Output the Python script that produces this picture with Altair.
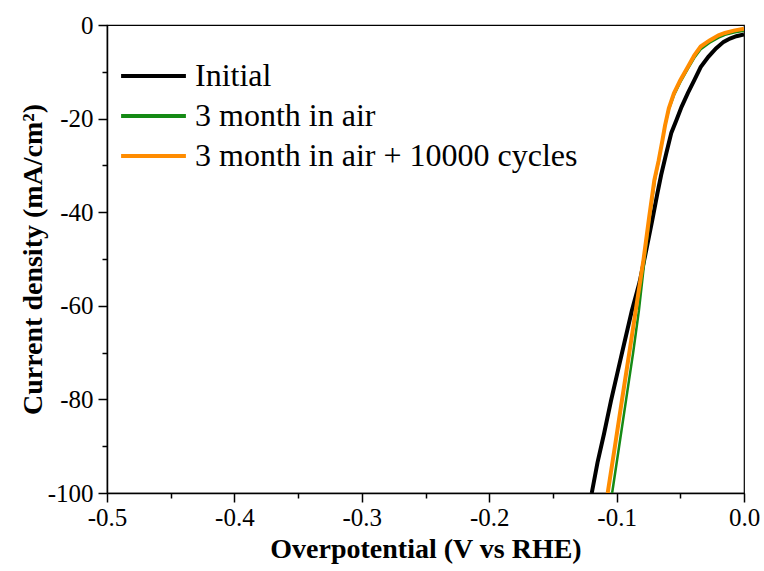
import altair as alt
import pandas as pd

# Series names
series_names = ["Initial", "3 month in air", "3 month in air + 10000 cycles"]
series_colors = ["#000000", "#158a15", "#ff8c00"]
series_widths = [4, 2.5, 4]

# Initial (black)
init_x = [0.000, -0.006, -0.011, -0.016, -0.022, -0.028, -0.034, -0.039, -0.044, -0.049,
          -0.053, -0.057, -0.061, -0.065, -0.068, -0.072, -0.077, -0.082, -0.088, -0.094,
          -0.0995, -0.1044, -0.110, -0.115, -0.1195]
init_y = [-2.0, -2.4, -2.9, -3.6, -5.0, -6.8, -9.0, -11.8, -14.5, -17.5,
          -20.3, -23.0, -27.4, -32.0, -36.0, -41.7, -48.5, -55.0, -61.0, -68.0,
          -74.5, -80.3, -87.5, -93.5, -100.0]

# 3 month in air (green)
air_x = [0.000, -0.008, -0.015, -0.020, -0.027, -0.034, -0.039, -0.044, -0.050, -0.055,
         -0.059, -0.062, -0.064, -0.067, -0.070, -0.074, -0.078, -0.0825, -0.087, -0.0925,
         -0.098, -0.1035]
air_y = [-1.2, -1.6, -2.1, -2.7, -3.8, -5.2, -7.0, -9.3, -12.2, -15.0,
         -18.0, -21.5, -24.6, -29.0, -33.2, -41.0, -50.0, -61.0, -70.0, -80.0,
         -90.0, -100.0]

# 3 month in air + 10000 cycles (orange)
cyc_x = [0.000, -0.008, -0.015, -0.020, -0.027, -0.034, -0.039, -0.044, -0.050, -0.055,
         -0.059, -0.062, -0.064, -0.067, -0.0704, -0.0744, -0.0788, -0.085, -0.090, -0.0957,
         -0.1013, -0.107]
cyc_y = [-0.8, -1.2, -1.7, -2.2, -3.3, -4.6, -6.5, -8.9, -11.8, -14.6,
         -17.8, -21.5, -24.6, -29.0, -33.2, -41.0, -50.0, -61.0, -70.0, -80.0,
         -90.0, -100.0]

x_ticks = [-0.5, -0.45, -0.4, -0.35, -0.3, -0.25, -0.2, -0.15, -0.1, -0.05, 0.0]
y_ticks = [0, -10, -20, -30, -40, -50, -60, -70, -80, -90, -100]

rows = []
for name, xs_, ys_ in [(series_names[0], init_x, init_y),
                       (series_names[1], air_x, air_y),
                       (series_names[2], cyc_x, cyc_y)]:
    for i, (a, b) in enumerate(zip(xs_, ys_)):
        rows.append({"series": name, "V": a, "J": b, "i": i})
df = pd.DataFrame(rows)

FONT = "Liberation Serif"

x_major = "abs(datum.value*10 - round(datum.value*10)) < 0.001"
x_axis = alt.Axis(
    values=x_ticks,
    labelExpr=f"{x_major} ? ((datum.value < 0 ? '-' : '') + format(abs(datum.value), '.1f')) : ''",
    tickSize={"condition": {"test": x_major, "value": 9}, "value": 5},
    labelFont=FONT, labelFontSize=25, labelColor="black", labelPadding=3,
    labelOverlap=False, labelFlush=False,
    title="Overpotential (V vs RHE)", titleFont=FONT, titleFontSize=28,
    titleFontWeight="bold", titleColor="black", titlePadding=5,
    domainColor="black", domainWidth=1.5, tickColor="black", tickWidth=1.5,
    grid=False,
)
y_major = "datum.value % 20 == 0"
y_axis = alt.Axis(
    values=y_ticks,
    labelExpr=f"{y_major} ? ((datum.value < 0 ? '-' : '') + format(abs(datum.value), 'd')) : ''",
    tickSize={"condition": {"test": y_major, "value": 9}, "value": 5},
    labelFont=FONT, labelFontSize=25, labelColor="black", labelPadding=5,
    labelOverlap=False, labelFlush=False,
    title="Current density (mA/cm²)", titleFont=FONT, titleFontSize=28,
    titleFontWeight="bold", titleColor="black", titlePadding=0,
    domainColor="black", domainWidth=1.5, tickColor="black", tickWidth=1.5,
    grid=False,
)

legend = alt.Legend(
    title=None, orient="none", legendX=12, legendY=33,
    symbolType="stroke", symbolSize=4200, symbolStrokeWidth=4,
    labelFont=FONT, labelFontSize=32, labelColor="black",
    labelOffset=7, rowPadding=4, clipHeight=36, labelLimit=700,
)

color_scale = alt.Scale(domain=series_names, range=series_colors)
xs = alt.Scale(domain=[-0.5, 0.0], nice=False, zero=False)
ys = alt.Scale(domain=[-100, 0], nice=False, zero=False)

layers = []
for k, name in enumerate(series_names):
    layers.append(
        alt.Chart(df).transform_filter(alt.datum.series == name)
        .mark_line(clip=True, strokeWidth=series_widths[k])
        .encode(
            x=alt.X("V:Q", scale=xs, axis=x_axis),
            y=alt.Y("J:Q", scale=ys, axis=y_axis),
            color=alt.Color("series:N", scale=color_scale, legend=legend),
            order=alt.Order("i:Q"),
        )
    )

chart = alt.layer(*layers).properties(
    width=637, height=468,
    background="white",
    autosize=alt.AutoSizeParams(type="none"),
    padding={"left": 107, "top": 25, "right": 20, "bottom": 78},
).configure(
    font=FONT
).configure_view(
    stroke="black", strokeWidth=1.2
)

chart.save("out.html", embed_options={"renderer": "svg", "actions": False})
